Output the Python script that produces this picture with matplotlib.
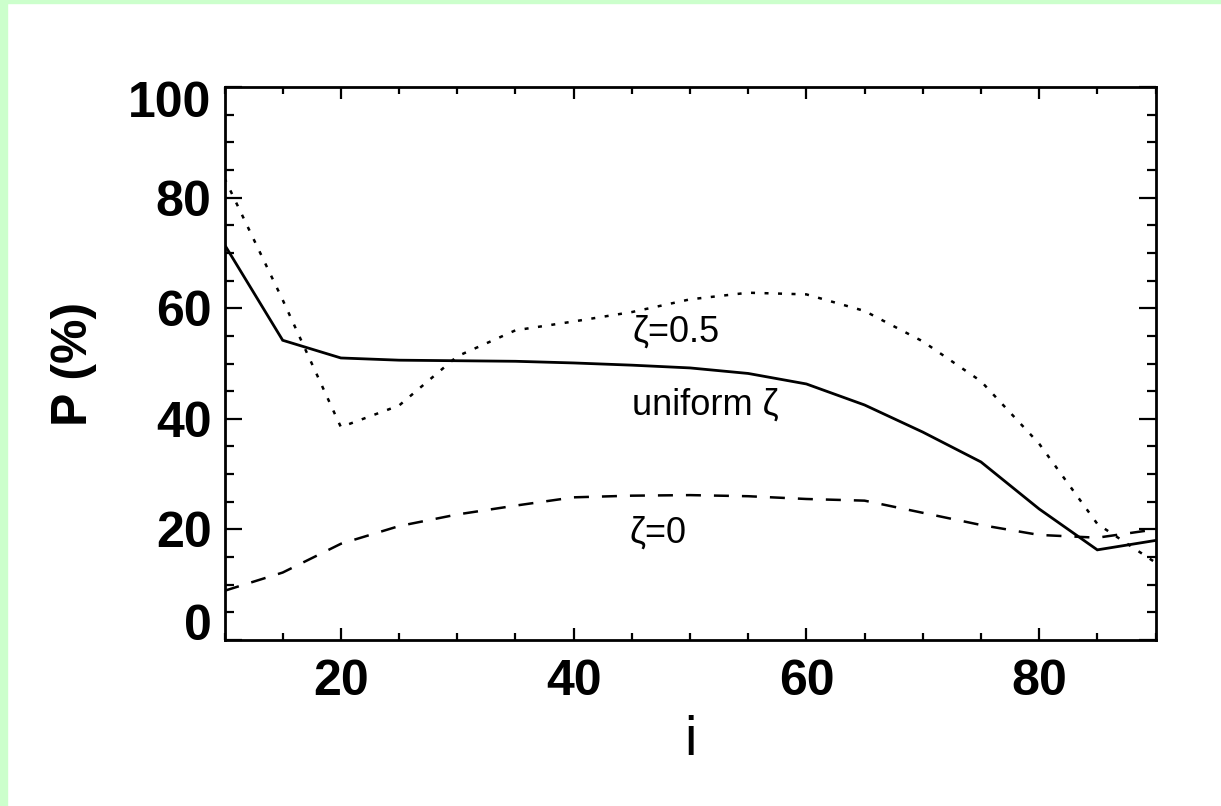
import matplotlib
matplotlib.use("Agg")
import matplotlib.pyplot as plt
from matplotlib.patches import Rectangle
from matplotlib.ticker import MultipleLocator
import matplotlib.transforms as mtransforms

# Data
incl = [10, 15, 20, 25, 30, 35, 40, 45, 50, 55, 60, 65, 70, 75, 80, 85, 90]
p_uniform = [71.5, 54.2, 51.0, 50.6, 50.5, 50.4, 50.1, 49.7, 49.2, 48.2, 46.3, 42.5, 37.6, 32.2, 23.7, 16.3, 18.0]
p_zeta05 = [83.5, 61.5, 38.5, 42.4, 51.3, 56.0, 57.6, 59.3, 61.6, 62.8, 62.5, 59.5, 54.0, 46.8, 35.5, 21.0, 14.0]
p_zeta0 = [8.9, 12.2, 17.4, 20.6, 22.7, 24.3, 25.8, 26.1, 26.2, 26.0, 25.5, 25.2, 23.0, 20.8, 19.0, 18.5, 20.0]

xticks = [20, 40, 60, 80]
yticks = [0, 20, 40, 60, 80, 100]
ytick_labels = ['0', '20', '40', '60', '80', '100']
labels = [("\u03b6=0.5", 45.1, 53.9), ("uniform \u03b6", 45.0, 40.7), ("\u03b6=0", 44.8, 17.6)]

plt.rcParams['font.family'] = ['Liberation Sans', 'DejaVu Sans']

W, H = 1221, 806
fig = plt.figure(figsize=(W / 100, H / 100), dpi=100, facecolor='white')
green = '#ccffcc'
fig.patches.append(Rectangle((0, 0), 7 / W, 1, transform=fig.transFigure, color=green, zorder=0))
fig.patches.append(Rectangle((0, 1 - 3 / H), 1, 3 / H, transform=fig.transFigure, color=green, zorder=0))

ax = fig.add_axes([224.5 / W, 1 - 640 / H, 931 / W, 553 / H])

ax.plot(incl, p_uniform, color='black', lw=2.0, solid_joinstyle='miter')
ax.plot(incl, p_zeta05, color='black', lw=1.8, linestyle=(0, (1.6, 3.8)))
ax.plot(incl, p_zeta0, color='black', lw=1.8, linestyle=(0, (6.0, 5.2)))

ax.set_xlim(10, 90)
ax.set_ylim(0, 100)
ax.set_xticks(xticks)
ax.set_yticks(yticks)
ax.xaxis.set_minor_locator(MultipleLocator(5))
ax.yaxis.set_minor_locator(MultipleLocator(5))

for s in ax.spines.values():
    s.set_linewidth(2.0)

ax.tick_params(axis='both', which='both', direction='in', top=True, right=True, width=1.6, colors='black')
ax.tick_params(axis='x', which='major', length=8.6, pad=14, labelsize=36)
ax.tick_params(axis='x', which='minor', length=5)
ax.tick_params(axis='y', which='major', length=12, labelleft=False)
ax.tick_params(axis='y', which='minor', length=6.5)

for lab in ax.get_xticklabels():
    lab.set_fontweight('bold')

# y tick labels (end labels pulled inward as in the reference)
trans = mtransforms.blended_transform_factory(ax.transAxes, ax.transData)
for val, txt in zip(yticks, ytick_labels):
    off = 0
    va = 'center_baseline'
    if val == yticks[0]:
        va = 'baseline'
    elif val == yticks[-1]:
        off = -12
    t = ax.text(-13 / 931, val, txt, transform=trans + mtransforms.ScaledTranslation(0, off / 100, fig.dpi_scale_trans),
                ha='right', va=va, fontsize=36, fontweight='bold', clip_on=False)

ax.set_xlabel('i', fontsize=40)
ax.set_ylabel('P (%)', fontsize=36, fontweight='bold')
ax.xaxis.set_label_coords(0.5, -0.135)
ax.yaxis.set_label_coords(-0.137, 0.5)

for txt, x, y in labels:
    ax.text(x, y, txt, fontsize=26, va='baseline', ha='left')

fig.savefig('out.png', dpi=100, facecolor='white')
